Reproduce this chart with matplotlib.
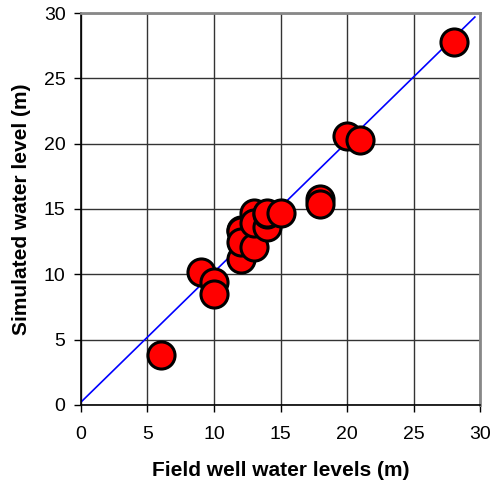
import matplotlib
matplotlib.use("Agg")
import matplotlib.pyplot as plt

plt.rcParams['font.family'] = ['Liberation Sans', 'DejaVu Sans']

# observed (field) vs simulated water levels, m
field = [6, 9, 10, 10, 12, 12, 12, 12, 13, 13, 13, 14, 14, 14, 15, 18, 18, 20, 21, 28]
simulated = [3.8, 10.2, 9.4, 8.5, 11.2, 13.4, 13.3, 12.5, 12.1, 14.7, 13.9, 13.6, 14.6, 14.7, 14.7, 15.8, 15.4, 20.6, 20.3, 27.8]
line_x = [0, 29.6]
line_y = [0.2, 29.7]

fig = plt.figure(figsize=(4.93, 4.86), dpi=100)
ax = fig.add_axes([0.164, 0.167, 0.81, 0.806])

ax.plot(line_x, line_y, color='#0000ff', lw=1.2, zorder=2)
ax.scatter(field, simulated, s=380, c='#ff0000', edgecolors='black', linewidths=2.2, zorder=3, clip_on=False)

ax.set_xlim(0, 30)
ax.set_ylim(0, 30)
ax.set_xticks(range(0, 31, 5))
ax.set_yticks(range(0, 31, 5))
ax.grid(True, color='#333333', lw=1)
ax.set_axisbelow(True)
ax.tick_params(direction='out', length=5, width=1, labelsize=14, colors='black')
ax.tick_params(axis='x', pad=10)
ax.tick_params(axis='y', pad=6)
for side in ['top', 'right']:
    ax.spines[side].set_color('#888888')
    ax.spines[side].set_linewidth(2)
for side in ['left', 'bottom']:
    ax.spines[side].set_color('black')
    ax.spines[side].set_linewidth(1.2)

ax.set_xlabel('Field well water levels (m)', fontsize=15, fontweight='bold', labelpad=13)
ax.set_ylabel('Simulated water level (m)', fontsize=15, fontweight='bold', labelpad=9)

plt.savefig('out.png', dpi=100)
